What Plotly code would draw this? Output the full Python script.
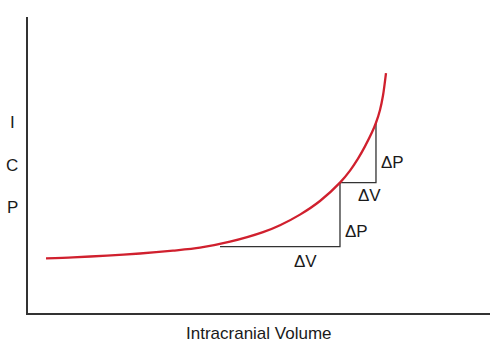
import plotly.graph_objects as go

# Pressure-volume curve (arbitrary units)
volume = [3.90, 9.74, 17.10, 24.24, 31.39, 37.23, 43.72, 50.87, 54.55, 58.87,
          63.20, 67.53, 69.70, 71.43, 72.94, 74.46, 75.32, 76.19, 76.84, 77.49]
icp = [18.48, 18.80, 19.38, 20.10, 21.05, 22.05, 24.08, 27.31, 29.66, 33.24,
       37.84, 44.05, 48.11, 52.16, 56.30, 61.03, 64.27, 68.60, 73.46, 81.06]

# Delta triangles
tri1_v = [41.56, 67.53, 67.53]
tri1_p = [22.40, 22.40, 44.05]
tri2_v = [67.53, 75.32, 75.32]
tri2_p = [44.05, 44.05, 64.27]

# Delta labels
delta_text = ["ΔV", "ΔP", "ΔV", "ΔP"]
delta_v = [60.0, 71.0, 74.0, 79.0]
delta_p = [17.3, 27.5, 39.6, 51.0]

y_letters = ["I", "C", "P"]
y_letter_pos = [0.642, 0.50, 0.355]

fig = go.Figure()
fig.add_trace(go.Scatter(x=tri1_v, y=tri1_p, mode="lines",
                         line=dict(color="#333333", width=1.3), hoverinfo="skip"))
fig.add_trace(go.Scatter(x=tri2_v, y=tri2_p, mode="lines",
                         line=dict(color="#333333", width=1.3), hoverinfo="skip"))
fig.add_trace(go.Scatter(x=volume, y=icp, mode="lines",
                         line=dict(color="#d0202e", width=2.3, shape="spline", smoothing=0.8),
                         hoverinfo="skip"))

font = dict(family="Liberation Sans, Arial, sans-serif", size=17, color="#1a1a1a")
annotations = []
for t, v, p in zip(delta_text, delta_v, delta_p):
    annotations.append(dict(x=v, y=p, xref="x", yref="y", text=t, showarrow=False,
                            font=font, xanchor="center", yanchor="middle"))
for t, yp in zip(y_letters, y_letter_pos):
    annotations.append(dict(x=-0.0346, y=yp, xref="paper", yref="paper", text=t,
                            showarrow=False, font=font, xanchor="center", yanchor="middle"))
annotations.append(dict(x=0.501, y=-0.069, xref="paper", yref="paper",
                        text="Intracranial Volume", showarrow=False, font=font,
                        xanchor="center", yanchor="middle"))

fig.update_layout(
    width=500, height=352,
    margin=dict(l=28, r=10, t=17, b=39),
    paper_bgcolor="white", plot_bgcolor="white",
    showlegend=False,
    annotations=annotations,
    xaxis=dict(range=[0, 100], showline=True, linecolor="#333333", linewidth=1.6,
               showgrid=False, zeroline=False, showticklabels=False, ticks=""),
    yaxis=dict(range=[0, 100], showline=True, linecolor="#333333", linewidth=1.6,
               showgrid=False, zeroline=False, showticklabels=False, ticks=""),
)

fig.write_html("out.html")
